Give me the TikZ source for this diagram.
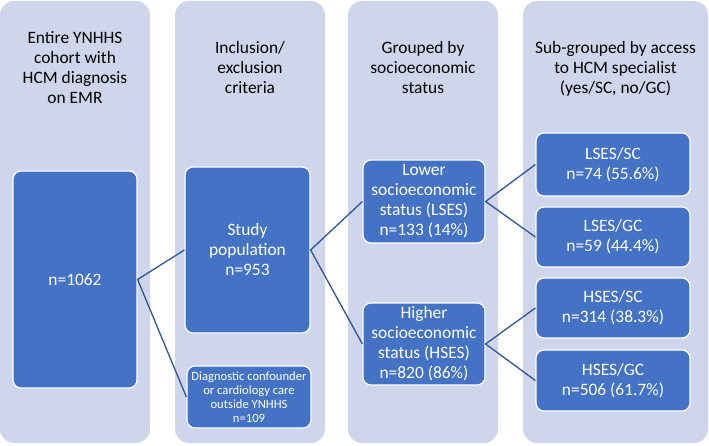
\documentclass[tikz,border=0pt]{standalone}
\usepackage{fontspec}
\setmainfont{Carlito}
\usetikzlibrary{positioning}
\definecolor{panel}{HTML}{CFD5EA}
\definecolor{boxblue}{HTML}{4472C4}
\definecolor{linkblue}{HTML}{2F5597}
\tikzset{
        link/.style={draw=linkblue, line width=1.3pt}, % lines between the groups
        every node/.style={font=\fontsize{17.4}{20}\selectfont}, % text size of all nodes
    }
\tikzstyle{column}=[fill=panel,rounded corners=14pt,minimum width=150pt,minimum height=442pt,inner sep=0pt]
\tikzstyle{heading}=[align=center,text=black]
\tikzstyle{group}=[draw=white,line width=1.2pt,fill=boxblue,text=white,align=center,rounded corners=8pt,inner sep=0pt]
\tikzstyle{subgroup}=[group,minimum width=154pt,minimum height=60pt]

\begin{document}
\begin{tikzpicture}[x=1pt,y=-1pt]
    \useasboundingbox (0,0) rectangle (709,446);
    % background columns
    \node[column] (col1) at (75,222) {};
    \node[column] (col2) at (250,222) {};
    \node[column] (col3) at (423,222) {};
    \node[column, minimum width=185pt] (col4) at (615.5,222) {};

    % headings
    \node[heading] (head1) at (75,68) {Entire YNHHS\\cohort with\\HCM diagnosis\\on EMR};
    \node[heading] (head2) at (250,68) {Inclusion/\\exclusion\\criteria};
    \node[heading] (head3) at (423,68) {Grouped by\\socioeconomic\\status};
    \node[heading] (head4) at (615.5,69) {Sub-grouped by access\\to HCM specialist\\(yes/SC, no/GC)};

    % groups
    \node[group, minimum width=124pt, minimum height=217pt] (cohort) at (75,279.5) {n=1062};
    \node[group, minimum width=125pt, minimum height=166pt] (study) at (247.5,250) {Study\\population\\n=953};
    \node[group, minimum width=124pt, minimum height=62pt,
          font=\fontsize{12.6}{13.8}\selectfont] (excluded) at (249,397)
        {Diagnostic confounder\\or cardiology care\\outside YNHHS\\n=109};
    \node[group, minimum width=122pt, minimum height=83pt] (lses) at (424,201.5)
        {Lower\\socioeconomic\\status (LSES)\\n=133 (14\%)};
    \node[group, minimum width=122pt, minimum height=82pt] (hses) at (424,344)
        {Higher\\socioeconomic\\status (HSES)\\n=820 (86\%)};
    \node[subgroup, minimum height=63pt] (lsessc) at (613,164.5) {LSES/SC\\n=74 (55.6\%)};
    \node[subgroup] (lsesgc) at (613,237) {LSES/GC\\n=59 (44.4\%)};
    \node[subgroup] (hsessc) at (613,308) {HSES/SC\\n=314 (38.3\%)};
    \node[subgroup, minimum height=61pt] (hsesgc) at (613,380.5) {HSES/GC\\n=506 (61.7\%)};

    % connectors
    \draw[link] (study.west) -- (cohort.east) -- (excluded.west);
    \draw[link] (lses.west) -- (study.east) -- (hses.west);
    \draw[link] (lsessc.west) -- (lses.east) -- (lsesgc.west);
    \draw[link] (hsessc.west) -- (hses.east) -- (hsesgc.west);
\end{tikzpicture}
\end{document}
